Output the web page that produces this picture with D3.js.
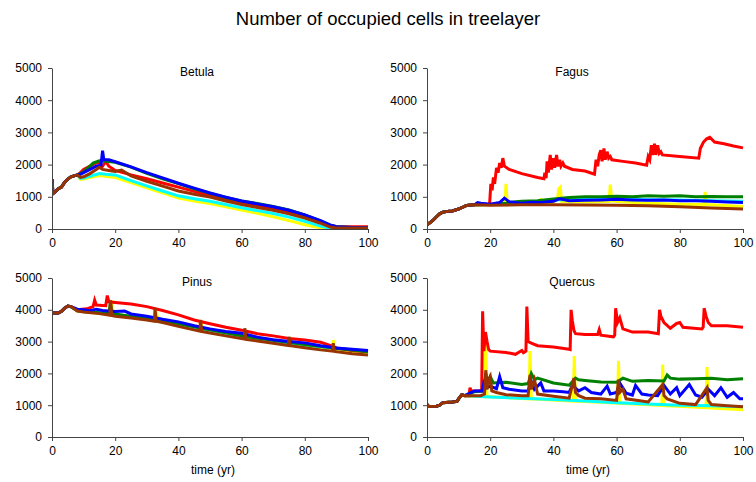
<!DOCTYPE html>
<html><head><meta charset="utf-8">
<script src="https://cdn.jsdelivr.net/npm/d3@7"></script>
<style>
body{margin:0;background:#fff;}
svg{display:block;font-family:"Liberation Sans",Arial,sans-serif;}
</style></head>
<body>
<svg id="chart" width="756" height="482"></svg>
<script>
// ---------- DATA ----------
const chartTitle = "Number of occupied cells in treelayer";
const panelNames = ["Betula", "Fagus", "Pinus", "Quercus"];
const seriesNames = ["yellow", "cyan", "red", "green", "blue", "brown"];
const seriesColors = ["#ffff00", "#00ffff", "#ff0000", "#008000", "#0000ff", "#993300"];
const xTicks = [0, 20, 40, 60, 80, 100];
const yTicks = [0, 1000, 2000, 3000, 4000, 5000];
const xLabel = "time (yr)";

// Betula
const betulaStart = [[0,1550],[0.3,1100],[1,1150],[2,1250],[3,1300],[4,1450],[5,1550],[6,1620],[7,1650],[8,1680]];
const betulaRed = [[9,1750],[10,1850],[12,1950],[14,2050],[15,2050],[16,1950],[17,2100],[18,1950],[20,1820],[25,1680],[30,1560],[35,1430],[40,1300],[45,1170],[50,1040],[55,930],[60,830],[65,740],[70,640],[75,540],[80,400],[85,230],[88,110],[90,80],[95,70],[100,70]];
const betulaGreen = [[9,1720],[10,1780],[12,1950],[13,2050],[15,2120],[17,2100],[20,2070],[25,1920],[30,1730],[35,1560],[40,1410],[45,1250],[50,1110],[55,980],[60,870],[65,790],[70,700],[75,590],[80,440],[85,250],[88,120],[90,70],[95,50],[100,40]];
const betulaBlue = [[9,1700],[10,1750],[12,1850],[14,1950],[15.5,1980],[16,2430],[16.4,2150],[18,2150],[20,2090],[25,1930],[30,1750],[35,1590],[40,1420],[45,1270],[50,1120],[55,990],[60,870],[65,780],[70,690],[75,580],[80,440],[85,260],[88,130],[90,70],[95,50],[100,40]];
const betulaBrown = [[9,1600],[10,1620],[12,1720],[14,1850],[15,1920],[16,1850],[18,1820],[20,1790],[22,1830],[25,1650],[30,1480],[35,1330],[40,1180],[45,1080],[50,990],[55,870],[60,760],[65,670],[70,580],[75,470],[80,340],[85,180],[88,60],[90,30],[95,30],[100,30]];
const betulaCyan = [[9,1570],[10,1580],[12,1640],[15,1720],[17,1700],[20,1680],[25,1500],[30,1340],[35,1180],[40,1030],[45,940],[50,860],[55,760],[60,660],[65,570],[70,480],[75,370],[80,240],[85,90],[88,20],[100,20]];
const betulaYellow = [[9,1540],[10,1550],[12,1600],[15,1660],[20,1600],[25,1440],[30,1280],[35,1120],[40,960],[45,870],[50,790],[55,690],[60,590],[65,490],[70,380],[75,260],[80,130],[85,30],[88,10],[100,10]];

// Fagus
const fagusStart = [[0,130],[1,200],[2,280],[3,380],[4,470],[5,520],[6,540],[7,550],[8,560],[9,590],[10,620],[11,660],[12,710],[13,740],[15,750]];
const fagusRed = [[16,790],[19.8,760],[20.2,1400],[20.6,1200],[21,1600],[21.4,1400],[22,1900],[22.5,1750],[23,2050],[23.5,1900],[24,2200],[24.5,1950],[26,1850],[30,1720],[35,1600],[37,1560],[37.3,1750],[37.7,1580],[38,2100],[38.4,1750],[39,2300],[39.4,1850],[40,2200],[40.4,1900],[41,2300],[41.4,1950],[42,2150],[42.4,1950],[43,2050],[43.5,1950],[46,1850],[50,1800],[53,1700],[53.5,2150],[54,1950],[54.5,2300],[55,2450],[55.4,2100],[56,2500],[56.4,2150],[57,2400],[57.5,2200],[58,2250],[58.5,2150],[62,2100],[66,2050],[69.5,1980],[70,2250],[70.5,2150],[71,2600],[71.4,2300],[72,2650],[72.4,2300],[73,2600],[73.5,2350],[74,2400],[74.5,2300],[80,2250],[86,2200],[86.5,2500],[87.5,2700],[88.5,2800],[89.5,2850],[91,2700],[94,2650],[97,2580],[100,2520]];
const fagusGreen = [[20,760],[25,800],[28,850],[30,860],[35,880],[40,930],[45,980],[50,1000],[55,1000],[60,1020],[65,1000],[70,1030],[75,1020],[80,1030],[85,1000],[90,1010],[95,1000],[100,1000]];
const fagusBlue = [[16,820],[17,800],[20,770],[23,820],[24.5,960],[26,850],[28,820],[30,800],[33,830],[36,820],[40,860],[42,940],[45,880],[50,890],[55,900],[60,920],[65,900],[70,890],[75,900],[80,880],[85,880],[90,860],[95,840],[100,820]];
const fagusCyan = [[20,760],[30,820],[40,900],[50,930],[60,920],[70,910],[80,900],[90,880],[100,860]];
const fagusYellow = [[20,760],[24.7,780],[25,1400],[25.4,790],[30,780],[35.6,790],[36,950],[36.4,800],[40,820],[41.3,950],[41.7,1250],[42.2,1300],[42.6,850],[50,840],[57.6,850],[58,1380],[58.5,870],[60,850],[70,800],[80,770],[87.6,760],[88,1150],[88.4,760],[100,700]];
const fagusBrown = [[20,740],[30,750],[40,750],[50,745],[60,740],[70,720],[80,690],[90,650],[100,620]];

// Pinus
const pinusStart = [[0,3900],[2,3900],[3,3950],[4,4050],[5,4120],[6,4100]];
const pinusRed = [[8,4000],[11,4030],[13,4100],[13.5,4300],[14,4150],[17,4130],[17.5,4450],[18,4250],[20,4230],[25,4180],[30,4100],[35,3980],[40,3840],[45,3680],[50,3560],[55,3450],[60,3360],[65,3250],[70,3180],[75,3100],[80,3050],[85,2980],[88,2880],[90,2800],[95,2720],[100,2680]];
const pinusGreen = [[8,3980],[10,3950],[18,3880],[18.5,4250],[19,3880],[20,3870],[30,3720],[40,3560],[50,3370],[60,3180],[70,3040],[80,2910],[90,2790],[100,2680]];
const pinusBlue = [[8,4020],[10,4000],[12,3970],[14,4020],[16,3980],[20,3950],[23,3960],[25,3870],[30,3800],[35,3700],[40,3620],[45,3500],[50,3400],[55,3320],[60,3260],[65,3140],[70,3060],[75,3000],[80,2960],[85,2870],[90,2800],[95,2760],[100,2720]];
const pinusCyan = [[8,3970],[20,3850],[30,3700],[40,3540],[50,3360],[60,3170],[70,3020],[80,2890],[90,2780],[100,2700]];
const pinusYellow = [[8,3960],[18.6,3850],[19,4300],[19.4,3850],[32.8,3680],[33,4050],[33.4,3680],[46.8,3420],[47,3680],[47.4,3420],[60,3150],[75,2920],[88.8,2740],[89,3050],[89.4,2740],[100,2640]];
const pinusBrown = [[8,3960],[10,3930],[15,3880],[18.3,3830],[18.5,4300],[18.9,3820],[20,3800],[25,3740],[30,3680],[32.4,3640],[32.6,4050],[33,3640],[35,3600],[40,3480],[46.8,3330],[47,3680],[47.4,3320],[50,3270],[55,3180],[60.8,3080],[61,3420],[61.4,3070],[65,3020],[70,2950],[74.8,2880],[75,3150],[75.4,2870],[80,2810],[85,2740],[88.8,2700],[89,2950],[89.4,2690],[95,2620],[100,2580]];

// Quercus
const quercusStart = [[0,1030],[0.5,960],[3,970],[4,1000],[5,1080],[8,1100],[9.5,1120],[10,1200],[11,1330],[12,1300]];
const quercusRed = [[13,1300],[13.3,1300],[13.6,1550],[14,1450],[17.3,1450],[17.6,3950],[18,2700],[18.5,3300],[19,3000],[19.5,2750],[20,2700],[25,2660],[28,2600],[30,2720],[30.5,2650],[31.3,2700],[31.6,4100],[32,3000],[33,2950],[35,2870],[40,2830],[45,2760],[45.3,2750],[45.6,4000],[46,3650],[46.5,3350],[47,3250],[50,3220],[54,3220],[54.5,3380],[55,3200],[59,3150],[59.4,3200],[59.7,4050],[60.3,3600],[61,3750],[62,3400],[65,3300],[70,3300],[73.2,3250],[73.6,4000],[74,3800],[75,3600],[77,3420],[79,3570],[80,3600],[81,3450],[87,3400],[87.4,3450],[87.7,4050],[88.3,3800],[89,3600],[90,3500],[95,3500],[100,3450]];
const quercusGreen = [[13,1350],[15,1420],[18,1450],[18.6,2000],[19.2,1700],[20,1900],[21,1700],[25,1720],[30,1650],[32,1680],[33,2000],[34,1800],[35,1850],[40,1700],[45,1630],[47,1850],[48,1800],[50,1780],[55,1730],[60,1720],[62,1850],[65,1750],[70,1780],[75,1760],[76,1950],[77,1850],[80,1820],[85,1830],[90,1850],[95,1800],[100,1830]];
const quercusBlue = [[13,1350],[15,1450],[17.5,1450],[18,1700],[19,1550],[20,1600],[22,1520],[23,1900],[24,1550],[26,1500],[30,1450],[32,1450],[33,1750],[34,1500],[36,1700],[37,1450],[40,1450],[43,1420],[45,1400],[46,1620],[48,1450],[50,1550],[52,1400],[55,1350],[57,1600],[58,1350],[60,1400],[61,1700],[63,1380],[65,1320],[66,1620],[68,1350],[70,1320],[73,1300],[75,1620],[77,1350],[79,1550],[80,1300],[83,1650],[85,1320],[87,1250],[89,1500],[91,1300],[93,1550],[95,1250],[97,1400],[99,1200],[100,1200]];
const quercusCyan = [[13,1300],[20,1260],[30,1220],[40,1180],[50,1130],[60,1080],[70,1040],[80,1000],[90,980],[100,950]];
const quercusYellow = [[13,1290],[18.2,1270],[18.6,3100],[19,1270],[32.3,1200],[32.6,2700],[33,1200],[46.3,1130],[46.6,2550],[47,1130],[60.3,1060],[60.6,2400],[61,1060],[74.3,990],[74.6,2280],[75,990],[88.3,920],[88.6,2200],[89,920],[100,860]];
const quercusBrown = [[13,1300],[17,1300],[18.2,1350],[18.6,2100],[19,1500],[19.5,1800],[20,1900],[20.5,1450],[22,1400],[25,1330],[30,1300],[32,1300],[32.6,1950],[33,1500],[34,1800],[35,1350],[40,1280],[45,1220],[46.5,1850],[47,1400],[48,1300],[50,1220],[55,1200],[60,1150],[60.6,1800],[61,1400],[62,1500],[63,1200],[70,1100],[74.6,1650],[75,1300],[76,1200],[80,1060],[85,1020],[88.6,1550],[89,1150],[90,1020],[95,980],[100,950]];

// ---------- ASSEMBLY ----------
const panelData = [
  {start: betulaStart, series: [betulaYellow, betulaCyan, betulaRed, betulaGreen, betulaBlue, betulaBrown]},
  {start: fagusStart, series: [fagusYellow, fagusCyan, fagusRed, fagusGreen, fagusBlue, fagusBrown]},
  {start: pinusStart, series: [pinusYellow, pinusCyan, pinusRed, pinusGreen, pinusBlue, pinusBrown]},
  {start: quercusStart, series: [quercusYellow, quercusCyan, quercusRed, quercusGreen, quercusBlue, quercusBrown]}
];

// ---------- LAYOUT ----------
const layout = [
  {x0: 52, x1: 368, yb: 229, yt: 68},
  {x0: 427, x1: 743, yb: 229, yt: 68},
  {x0: 52, x1: 368, yb: 437, yt: 278},
  {x0: 427, x1: 743, yb: 437, yt: 278}
];

const svg = d3.select("#chart");
svg.append("text").attr("x", 388).attr("y", 25).attr("text-anchor", "middle")
  .attr("font-size", 18.5).attr("fill", "#000").text(chartTitle);

panelNames.forEach((name, i) => {
  const L = layout[i];
  const x = d3.scaleLinear().domain([0, 100]).range([L.x0, L.x1]);
  const y = d3.scaleLinear().domain([0, 5000]).range([L.yb, L.yt]);
  const g = svg.append("g");

  const line = d3.line().x(d => x(d[0])).y(d => y(d[1]));
  const clipId = "clip" + i;
  svg.append("clipPath").attr("id", clipId).append("rect")
    .attr("x", L.x0).attr("y", L.yt - 10).attr("width", L.x1 - L.x0 + 4).attr("height", L.yb - L.yt + 10);

  panelData[i].series.forEach((s, k) => {
    g.append("path")
      .datum(panelData[i].start.concat(s))
      .attr("clip-path", `url(#${clipId})`)
      .attr("fill", "none")
      .attr("stroke", seriesColors[k])
      .attr("stroke-width", 3)
      .attr("d", line);
  });

  const yAxis = d3.axisLeft(y).tickValues(yTicks).tickSize(4).tickSizeOuter(0).tickPadding(6).tickFormat(d3.format("d"));
  const xAxis = d3.axisBottom(x).tickValues(xTicks).tickSize(4).tickSizeOuter(0).tickPadding(5).tickFormat(d3.format("d"));
  const ga = g.append("g").attr("transform", `translate(${L.x0},0)`).call(yAxis);
  const gx = g.append("g").attr("transform", `translate(0,${L.yb})`).call(xAxis);
  [ga, gx].forEach(a => {
    a.selectAll("path,line").attr("stroke", "#444");
    a.selectAll("text").attr("font-size", 12).attr("fill", "#000")
      .attr("font-family", "'Liberation Sans',Arial,sans-serif");
  });

  g.append("text").attr("x", L.x0 + 145).attr("y", L.yt + 8).attr("text-anchor", "middle")
    .attr("font-size", 12).attr("fill", "#000").text(name);

  if (i >= 2) {
    g.append("text").attr("x", (L.x0 + L.x1) / 2 + 3).attr("y", 474).attr("text-anchor", "middle")
      .attr("font-size", 12).attr("fill", "#000").text(xLabel);
  }
});
</script>
</body></html>
